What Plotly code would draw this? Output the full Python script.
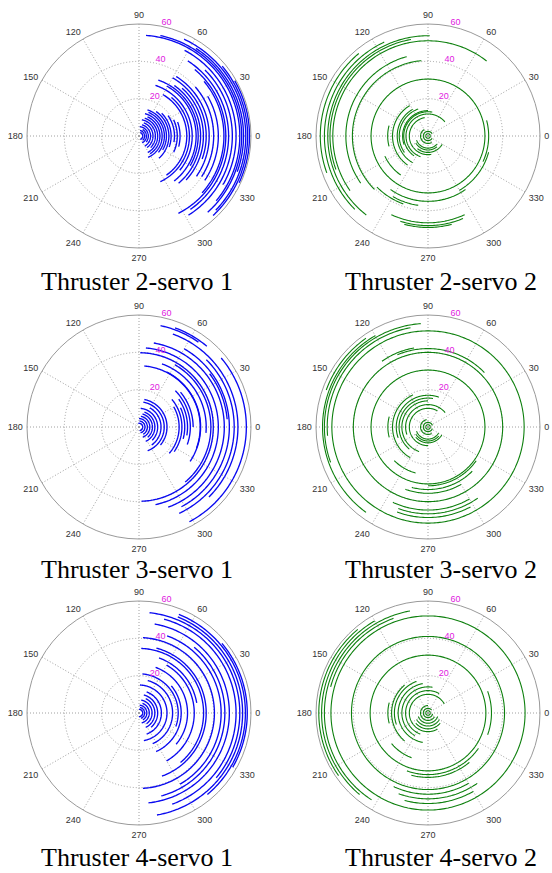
import numpy as np
import plotly.graph_objects as go

W, H = 552, 873

# ---------------- data: each arc = radius, start angle, end angle (deg) -------------
# Thruster 2 - servo 1
T2S1_R = [2.0, 3.0, 4.0, 5.0, 6.2, 7.5, 8.8, 10.0, 11.2, 12.4, 13.6, 14.7, 16.0, 17.2, 19.0,
          20.5, 22.0, 25.6, 27.0, 28.5, 30.6, 31.7, 33.0, 34.5, 36.0, 37.6, 40.0, 42.5, 45.5,
          46.5, 48.0, 50.0, 52.0, 54.0, 55.0, 56.0, 57.2, 58.2, 59.2]
T2S1_START = [70, 80, 60, 85, 75, 70, 80, 72, 66, 75, 68, 72, 55, 45, 35,
              25, 20, 60, 50, 72, 61, 71, 55, 48, 60, 58, 41, 30, 40,
              50, 57, 45, 62, 86, 78, 57, 65, 40, 30]
T2S1_END = [-70, -50, -65, -40, -60, -55, -45, -62, -58, -67, -40, -30, -48, -20, -10,
            -25, -15, -55, -65, -40, -52, -30, -50, -43, -20, -35, -33, -34, -42,
            -63, -55, -58, -30, -40, -48, -20, -44, -47, -25]

# Thruster 2 - servo 2
T2S2_R = [1.2, 2.5, 4.0, 6.5, 7.5, 8.8, 10.0, 11.8, 13.0, 13.6, 15.4, 16.5, 19.0, 21.6,
          25.5, 30.5, 32.5, 33.6, 35.0, 37.5, 38.7, 40.5, 44.0, 46.5, 48.0, 49.0,
          51.0, 52.5, 53.7, 55.5, 57.7]
T2S2_START = [0, 30, 120, 200, 210, 230, 100, 40, 80, 90, 110, 120, 121, 165,
              205, 0, -25, -60, 235, 240, 225, 95, 105, 245, 252, 255,
              52, 100, 89, 115, 130]
T2S2_END = [360, 330, 300, 320, 310, 330, 280, 250, 235, 200, 215, 240, 235, 195,
            235, 360, 15, -15, 305, 262, 250, 225, 215, 295, 293, 285,
            215, 200, 232, 225, 200]

# Thruster 3 - servo 1
T3S1_R = [2.0, 3.2, 4.5, 5.8, 7.2, 8.5, 10.0, 11.8, 13.5, 15.0, 21.5, 23.0, 24.5, 26.0,
          27.5, 29.0, 33.0, 32.8, 36.0, 38.5, 39.8, 42.5, 45.7, 47.4, 48.4, 51.0, 53.0,
          55.5, 56.5, 57.5]
T3S1_START = [100, 85, 90, 80, 75, 70, 85, 60, 80, 79, 30, 40, 25, 35,
              45, 40, 63, 85, 70, 60, 89, 85, 80, 37, 60, 45, 70,
              78, 70, 40]
T3S1_END = [-80, -75, -60, -70, -50, -65, -45, -55, -70, -40, -41, -35, -15, -10,
            -20, 0, -34, -20, -5, -50, -88, -78, -70, 5, -62, -65, -45,
            55, 50, -62]

# Thruster 3 - servo 2
T3S2_R = [1.2, 2.5, 4.0, 6.5, 7.5, 8.5, 10.0, 12.0, 14.0, 15.5, 17.0, 19.0, 21.5, 25.5,
          30.5, 31.5, 33.5, 35.5, 40.0, 42.0, 43.0, 44.5, 46.5, 48.5, 51.5, 54.0,
          55.5, 56.5, 58.0]
T3S2_START = [0, 20, 100, 200, 210, 220, 60, 40, 90, 80, 70, 115, 165, 225,
              0, 270, 255, 250, 0, 44, 100, 245, 250, 250, 0, 100,
              94, 120, 125]
T3S2_END = [360, 340, 300, 330, 320, 330, 270, 200, 250, 230, 200, 240, 195, 255,
            360, 325, 315, 300, 360, 113, 125, 300, 305, 298, 360, 185,
            200, 234, 160]

# Thruster 4 - servo 1
T4S1_R = [2.0, 3.0, 4.2, 5.5, 7.0, 8.5, 10.0, 12.0, 15.0, 18.0, 21.0, 22.6, 26.0, 29.6,
          31.4, 34.6, 36.0, 40.4, 44.0, 46.0, 48.4, 52.0, 54.0, 55.5, 57.0, 58.0]
T4S1_START = [90, 80, 85, 70, 80, 65, 75, 70, 88, 75, 85, 40, 70, 60,
              70, 88, 75, 87, 70, 50, 80, 75, 84, 68, 68, 40]
T4S1_END = [-90, -70, -60, -75, -55, -65, -50, -70, -80, -66, -20, -66, -40, -60,
            10, -50, -70, -87, -60, -75, -84, -70, -40, -80, -50, -30]

# Thruster 4 - servo 2
T4S2_R = [1.2, 2.5, 4.0, 5.5, 7.0, 8.5, 10.0, 12.0, 14.0, 16.0, 18.0, 19.5, 21.5, 25.5,
          31.0, 33.0, 34.5, 34.0, 41.0, 43.5, 46.0, 48.5, 52.0, 54.0, 55.5, 57.0, 58.5]
T4S2_START = [0, 40, 90, 200, 210, 220, 30, 60, 80, 100, 110, 130, 165, 220,
              0, 250, 255, -20, 0, 245, 250, 255, 0, 110, 100, 120, 130]
T4S2_END = [360, 350, 330, 340, 330, 320, 300, 250, 240, 260, 200, 230, 195, 250,
            360, 325, 310, 20, 360, 300, 305, 300, 360, 165, 237, 230, 215]

TITLES = ["Thruster 2-servo 1", "Thruster 2-servo 2",
          "Thruster 3-servo 1", "Thruster 3-servo 2",
          "Thruster 4-servo 1", "Thruster 4-servo 2"]
ANG_TICKS = list(range(0, 360, 30))
RAD_TICKS = [20, 40, 60]

BLUE = "#0a0af0"
GREEN = "#0e800e"

panels = [
    (T2S1_R, T2S1_START, T2S1_END, BLUE, 1.35),
    (T2S2_R, T2S2_START, T2S2_END, GREEN, 1.1),
    (T3S1_R, T3S1_START, T3S1_END, BLUE, 1.35),
    (T3S2_R, T3S2_START, T3S2_END, GREEN, 1.1),
    (T4S1_R, T4S1_START, T4S1_END, BLUE, 1.35),
    (T4S2_R, T4S2_START, T4S2_END, GREEN, 1.1),
]

# layout geometry (pixels)
CX = [139, 428]
CY = [136, 427, 713]
RAD = 112
TITLE_X = [137, 441]
TITLE_Y = [282, 569, 857]


def arcs_to_path(radii, starts, ends):
    th, rr = [], []
    for r, a, b in zip(radii, starts, ends):
        n = max(2, int(abs(b - a) / 1.0) + 1)
        t = np.linspace(a, b, n)
        th.extend(t.tolist())
        rr.extend([r] * n)
        th.append(None)
        rr.append(None)
    return rr, th


fig = go.Figure()
layout_updates = {}
annotations = []
for i, (R, S, E, col, lw) in enumerate(panels):
    row, c = divmod(i, 2)
    name = "polar" if i == 0 else f"polar{i+1}"
    rr, th = arcs_to_path(R, S, E)
    fig.add_trace(go.Scatterpolar(r=rr, theta=th, mode="lines",
                                  line=dict(color=col, width=lw),
                                  subplot=name, showlegend=False,
                                  hoverinfo="skip", connectgaps=False))
    cx, cy = CX[c], CY[row]
    layout_updates[name] = dict(
        domain=dict(x=[(cx - RAD) / W, (cx + RAD) / W],
                    y=[1 - (cy + RAD) / H, 1 - (cy - RAD) / H]),
        bgcolor="white",
        angularaxis=dict(rotation=0, direction="counterclockwise",
                         tickmode="array", tickvals=ANG_TICKS,
                         ticktext=[str(v) for v in ANG_TICKS],
                         showgrid=True, gridcolor="#a0a0a0", griddash="1px,2px", gridwidth=1,
                         showline=True, linecolor="#9a9a9a", linewidth=1,
                         ticks="outside", ticklen=2, tickcolor="rgba(0,0,0,0)",
                         tickfont=dict(size=9, color="#333333", family="Liberation Sans")),
        radialaxis=dict(range=[0, 60], tickmode="array", tickvals=RAD_TICKS,
                        ticktext=[f"{v}<br> " for v in RAD_TICKS],
                        showgrid=True, gridcolor="#a0a0a0", griddash="1px,2px", gridwidth=1,
                        showline=False, ticks="", angle=81, tickangle=81,
                        tickfont=dict(size=9, color="#e020e0", family="Liberation Sans")),
    )
    annotations.append(dict(text=TITLES[i], x=TITLE_X[c] / W, y=1 - TITLE_Y[row] / H,
                            xref="paper", yref="paper", xanchor="center", yanchor="middle",
                            showarrow=False,
                            font=dict(family="Liberation Serif", size=26, color="black")))

fig.update_layout(width=W, height=H, margin=dict(l=0, r=0, t=0, b=0),
                  paper_bgcolor="white", plot_bgcolor="white",
                  annotations=annotations, **layout_updates)
fig.write_html("out.html")
